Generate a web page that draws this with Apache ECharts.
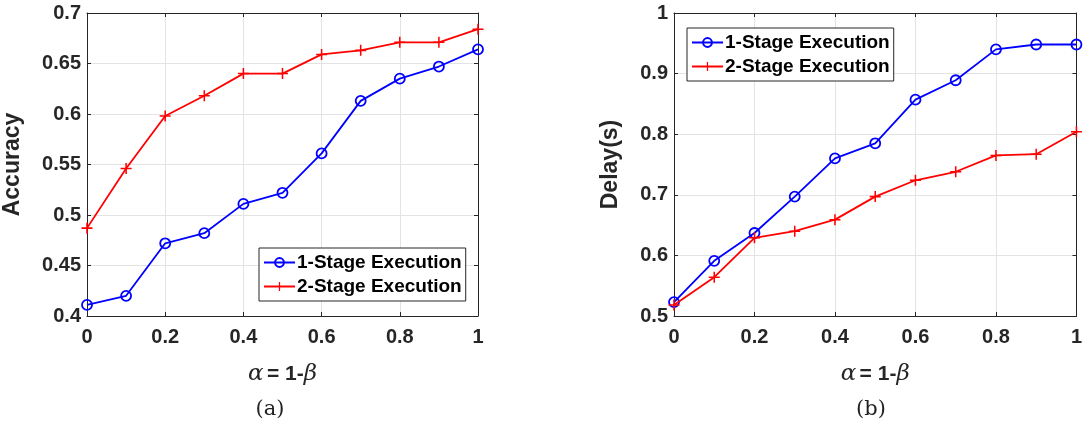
<!DOCTYPE html>
<html><head><meta charset="utf-8">
<script src="https://cdn.jsdelivr.net/npm/echarts@6/dist/echarts.min.js"></script>
<style>html,body{margin:0;padding:0;background:#fff}#c{width:1085px;height:428px}</style>
</head><body><div id="c"></div>
<script>
const alphaValues = [0, 0.1, 0.2, 0.3, 0.4, 0.5, 0.6, 0.7, 0.8, 0.9, 1.0];
const acc1Stage = [0.411, 0.420, 0.472, 0.482, 0.511, 0.522, 0.561, 0.613, 0.635, 0.647, 0.664];
const acc2Stage = [0.487, 0.546, 0.598, 0.618, 0.640, 0.640, 0.659, 0.663, 0.671, 0.671, 0.684];
const delay1Stage = [0.523, 0.591, 0.637, 0.697, 0.760, 0.785, 0.857, 0.889, 0.940, 0.948, 0.948];
const delay2Stage = [0.518, 0.564, 0.629, 0.640, 0.659, 0.697, 0.724, 0.738, 0.765, 0.767, 0.804];
const seriesNames = ['1-Stage Execution', '2-Stage Execution'];
const panelLabels = ['(a)', '(b)'];

const pairs = (xs, ys) => xs.map((x, i) => [x, ys[i]]);
const AX = '#262626';
const plusSym = 'path://M4.3,0H5.7V10H4.3Z M0,4.3H10V5.7H0Z';
const tickFont = {fontFamily: 'Liberation Sans', fontWeight: 'bold', fontSize: 20, color: AX};
const xName = {
  text: '{a|α} {b|= 1-}{a|β}',
  rich: {
    a: {fontFamily: 'DejaVu Serif', fontStyle: 'italic', fontSize: 23, color: AX},
    b: {fontFamily: 'Liberation Sans', fontWeight: 'bold', fontSize: 21, color: AX}
  }
};

function xAxes(gi) {
  return [{
    type: 'value', gridIndex: gi, min: 0, max: 1, interval: 0.2, position: 'bottom',
    axisLine: {show: true, onZero: false, lineStyle: {color: AX, width: 1}},
    axisTick: {show: true, inside: true, length: 4, lineStyle: {color: AX}},
    axisLabel: Object.assign({margin: 11, formatter: v => String(+v.toFixed(1))}, tickFont),
    splitLine: {show: true, lineStyle: {color: '#e3e3e3', width: 1}},
    name: xName.text, nameLocation: 'middle', nameGap: 47,
    nameTextStyle: {rich: xName.rich}
  }, {
    type: 'value', gridIndex: gi, min: 0, max: 1, interval: 0.2, position: 'top',
    axisLine: {show: true, onZero: false, lineStyle: {color: AX, width: 1}},
    axisTick: {show: true, inside: true, length: 4, lineStyle: {color: AX}},
    axisLabel: {show: false}, splitLine: {show: false}
  }];
}
function yAxes(gi, min, max, interval, name, gap, fmt) {
  return [{
    type: 'value', gridIndex: gi, min: min, max: max, interval: interval, position: 'left',
    axisLine: {show: true, onZero: false, lineStyle: {color: AX, width: 1}},
    axisTick: {show: true, inside: true, length: 4, lineStyle: {color: AX}},
    axisLabel: Object.assign({margin: 6, formatter: fmt}, tickFont),
    splitLine: {show: true, lineStyle: {color: '#e3e3e3', width: 1}},
    name: name, nameLocation: 'middle', nameGap: gap, nameRotate: 90,
    nameTextStyle: {fontFamily: 'Liberation Sans', fontWeight: 'bold', fontSize: 23, color: AX}
  }, {
    type: 'value', gridIndex: gi, min: min, max: max, interval: interval, position: 'right',
    axisLine: {show: true, onZero: false, lineStyle: {color: AX, width: 1}},
    axisTick: {show: true, inside: true, length: 4, lineStyle: {color: AX}},
    axisLabel: {show: false}, splitLine: {show: false}
  }];
}
function mkSeries(name, data, xi, yi, color, sym) {
  return {
    name: name, type: 'line', xAxisIndex: xi, yAxisIndex: yi, data: data,
    symbol: sym, symbolSize: sym === 'circle' ? 10 : 11, showAllSymbol: true,
    lineStyle: {color: color, width: 1.8},
    itemStyle: sym === 'circle' ? {color: 'rgba(255,255,255,0)', borderColor: color, borderWidth: 1.8} : {color: color, borderWidth: 0},
    emphasis: {disabled: true}, animation: false, z: sym === 'circle' ? 3 : 4
  };
}
const legendBase = {
  orient: 'vertical', itemWidth: 31, itemHeight: 11, itemGap: 5,
  padding: [5, 4, 5, 4], borderColor: AX, borderWidth: 1, backgroundColor: '#fff',
  textStyle: {fontFamily: 'Liberation Sans', fontWeight: 'bold', fontSize: 19, color: '#000', padding: [0, 0, 0, -3]},
  data: seriesNames, selectedMode: false
};

const chart = echarts.init(document.getElementById('c'), null, {renderer: 'canvas'});
chart.setOption({
  animation: false,
  grid: [
    {left: 86, top: 13, width: 392, height: 303},
    {left: 674, top: 13, width: 403, height: 303}
  ],
  xAxis: xAxes(0).concat(xAxes(1)),
  yAxis: yAxes(0, 0.4, 0.7, 0.05, 'Accuracy', 63, v => String(+v.toFixed(2)))
    .concat(yAxes(1, 0.5, 1.0, 0.1, 'Delay(s)', 52, v => String(+v.toFixed(1)))),
  legend: [
    Object.assign({left: 259, top: 248}, legendBase),
    Object.assign({left: 687, top: 28}, legendBase)
  ],
  title: [
    {text: panelLabels[0], left: 265, top: 394, textAlign: 'center',
     textStyle: {fontFamily: 'DejaVu Serif', fontWeight: 'normal', fontSize: 21, color: '#222'}},
    {text: panelLabels[1], left: 866, top: 394, textAlign: 'center',
     textStyle: {fontFamily: 'DejaVu Serif', fontWeight: 'normal', fontSize: 21, color: '#222'}}
  ],
  series: [
    mkSeries(seriesNames[0], pairs(alphaValues, acc1Stage), 0, 0, '#0000ff', 'circle'),
    mkSeries(seriesNames[1], pairs(alphaValues, acc2Stage), 0, 0, '#ff0000', plusSym),
    mkSeries(seriesNames[0], pairs(alphaValues, delay1Stage), 2, 2, '#0000ff', 'circle'),
    mkSeries(seriesNames[1], pairs(alphaValues, delay2Stage), 2, 2, '#ff0000', plusSym)
  ]
});
</script></body></html>
